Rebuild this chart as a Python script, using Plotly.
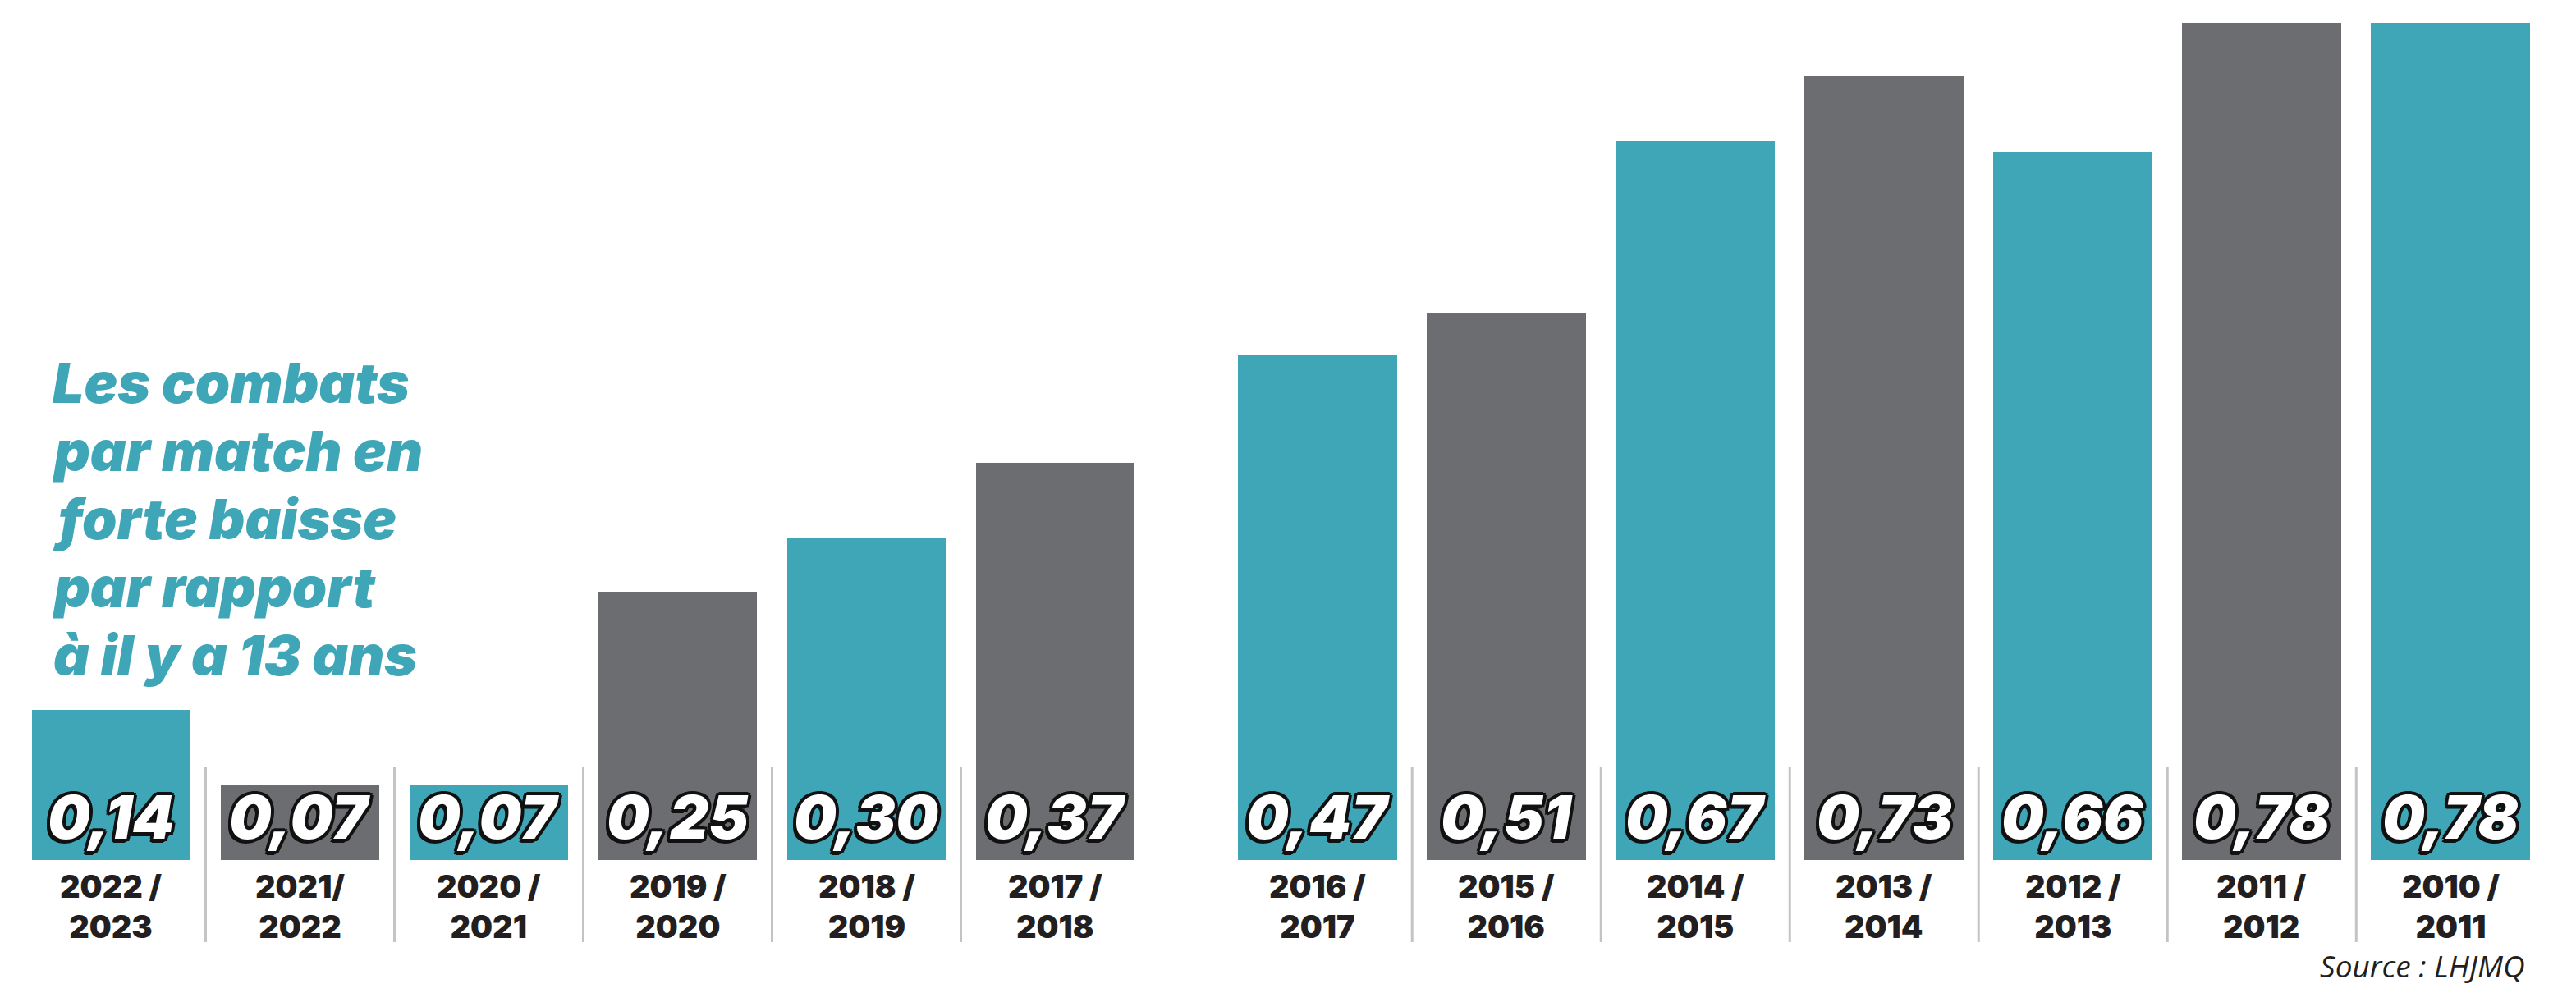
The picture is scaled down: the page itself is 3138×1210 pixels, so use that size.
import plotly.graph_objects as go

# ---- data ----
seasons_top = ["2022 /", "2021/", "2020 /", "2019 /", "2018 /", "2017 /",
               "2016 /", "2015 /", "2014 /", "2013 /", "2012 /", "2011 /", "2010 /"]
seasons_bottom = ["2023", "2022", "2021", "2020", "2019", "2018",
                  "2017", "2016", "2015", "2014", "2013", "2012", "2011"]
fights_per_game = [0.14, 0.07, 0.07, 0.25, 0.30, 0.37,
                   0.47, 0.51, 0.67, 0.73, 0.66, 0.78, 0.78]
title_lines = ["Les combats", "par match en", "forte baisse", "par rapport", "à il y a 13 ans"]
source_text = "Source : LHJMQ"

# ---- style / layout ----
W, H = 3138, 1210
TOP, BOTTOM = 28, 1048          # pixel rows of plot area
TEAL = "#3ea6b6"
GRAY = "#6b6d70"
HEAVY = "Inter"
GAP_AFTER = 5                    # gap between 2017/2018 and 2016/2017
GAP = 0.39

n = len(fights_per_game)
xpos = [i + (GAP if i > GAP_AFTER else 0) for i in range(n)]
colors = [TEAL if i % 2 == 0 else GRAY for i in range(n)]


def py(pix):
    return (BOTTOM - pix) / (BOTTOM - TOP)


def px(pix):
    return pix / W


fig = go.Figure()
fig.add_trace(go.Bar(x=xpos, y=fights_per_game, marker=dict(color=colors, line=dict(width=0)),
                     width=0.843, hoverinfo="skip"))

outline = ", ".join(f"{dx}px {dy}px 0 #111" for dx, dy in
                    [(-3, -3), (3, -3), (-3, 3), (3, 3), (0, 4), (0, -4), (4, 0), (-4, 0), (-2, 5), (-4, 4)])

annotations = []
for x, v in zip(xpos, fights_per_game):
    annotations.append(dict(
        x=x, y=0, xref="x", yref="y", yanchor="bottom", xanchor="center", yshift=6,
        text=f"{v:.2f}".replace(".", ","), showarrow=False,
        font=dict(family=HEAVY, size=73, color="white", weight=900, style="italic", shadow=outline)))
for x, t1, t2 in zip(xpos, seasons_top, seasons_bottom):
    annotations.append(dict(x=x, y=py(1104), xref="x", yref="paper", yanchor="middle",
                            text=f"{t1}<br>{t2}", showarrow=False,
                            font=dict(family=HEAVY, size=38, color="#231f20", weight=900)))
for k, line in enumerate(title_lines):
    annotations.append(dict(x=px(62), y=py(466 + 83 * k), xref="paper", yref="paper",
                            xanchor="left", yanchor="middle", text=line, showarrow=False,
                            font=dict(family=HEAVY, size=68, color=TEAL, weight=900, style="italic")))
annotations.append(dict(x=px(3078), y=py(1176), xref="paper", yref="paper", xanchor="right",
                        yanchor="middle", text=source_text, showarrow=False,
                        font=dict(family="Open Sans", size=37, color="#231f20", style="italic")))

shapes = []
for i in range(n - 1):
    if i == GAP_AFTER:
        continue
    xm = (xpos[i] + xpos[i + 1]) / 2
    shapes.append(dict(type="line", xref="x", yref="paper", x0=xm, x1=xm, y0=py(935), y1=py(1148),
                       line=dict(color="#c4c4c4", width=3)))

fig.update_layout(
    width=W, height=H, margin=dict(l=0, r=0, t=TOP, b=H - BOTTOM),
    paper_bgcolor="white", plot_bgcolor="white", showlegend=False, bargap=0,
    xaxis=dict(range=[-0.589, 13.054], visible=False, fixedrange=True),
    yaxis=dict(range=[0, 0.78], visible=False, fixedrange=True),
    annotations=annotations, shapes=shapes,
)

fig.write_html("out.html", config={"displayModeBar": False},
               post_script="document.body.style.margin='0';document.body.style.overflow='hidden';")
